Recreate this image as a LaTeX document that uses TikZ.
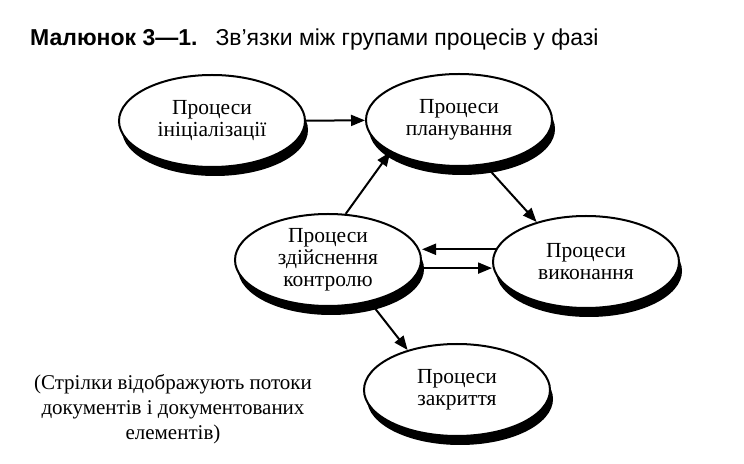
\documentclass[tikz,border=0pt]{standalone}
\usepackage{fontspec}
\setmainfont{Liberation Serif}
\newfontfamily\titlefont{Liberation Sans}
\usetikzlibrary{arrows.meta,shapes.geometric,shadows}

\begin{document}
\begin{tikzpicture}[
    x=1pt, y=1pt,
    % process groups
    proc/.style={draw, ellipse, line width=2pt, fill=white,
      minimum width=186pt, minimum height=92pt, inner sep=0pt,
      align=center, font=\fontsize{21.5}{22}\selectfont,
      drop shadow={shadow xshift=3pt, shadow yshift=-9pt, fill=black, opacity=1}},
    % document flows
    flow/.style={-{Triangle[length=14pt,width=11pt]}, line width=2pt},
  ]
  \useasboundingbox (0,0) rectangle (744,463);

  \node[anchor=base west, inner sep=0pt, font=\titlefont\fontsize{23}{24}\selectfont] (title) at (30,417)
    {\textbf{Малюнок 3—1.}\hspace{18pt}Зв’язки між групами процесів у фазі};

  \node[proc] (init) at (212,342) {Процеси\\ініціалізації};
  \node[proc] (plan) at (459,343) {Процеси\\планування};
  \node[proc] (control) at (328,203) {Процеси\\здійснення\\контролю};
  \node[proc] (exec) at (586,201) {Процеси\\виконання};
  \node[proc] (close) at (457,73) {Процеси\\закриття};

  \node[align=center, font=\fontsize{21}{25}\selectfont] (note) at (173,54)
    {(Стрілки відображують потоки\\документів і документованих\\елементів)};

  \draw[flow] (init) -- (plan);
  \draw[flow] (control.69) -- (plan.205);
  \draw[flow] (plan.-60) -- (exec.141);
  \draw[flow] (exec.172) -- (exec.172 -| control.east);
  \draw[flow] (control.-5) -- (control.-5 -| exec.west);
  \draw[flow] (control.-45) -- (close.141);
\end{tikzpicture}
\end{document}
